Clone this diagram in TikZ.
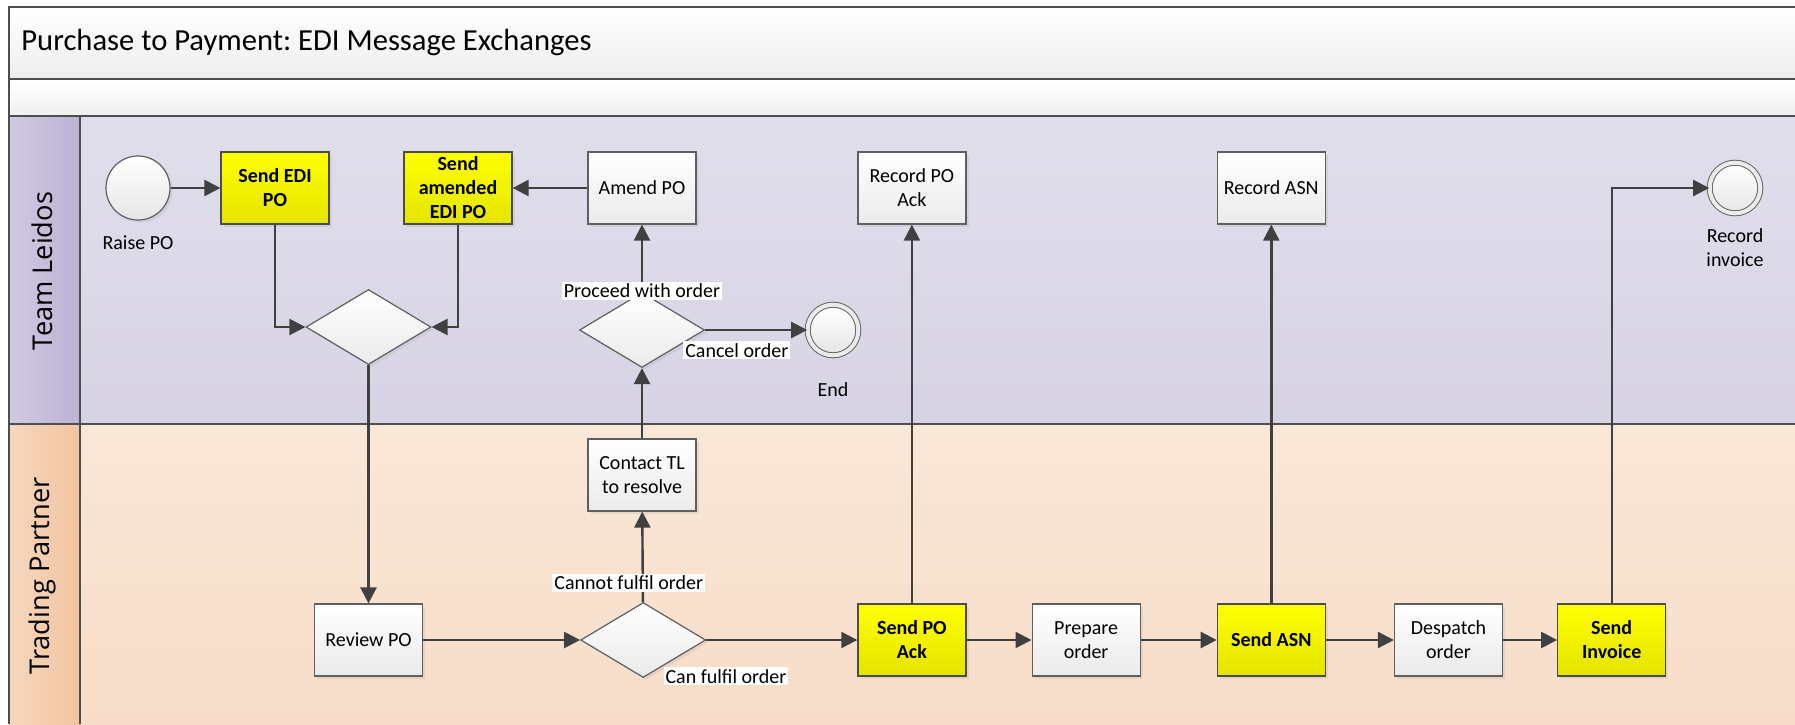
\documentclass[tikz,border=0pt]{standalone}
\usepackage{fontspec}
\setmainfont{Carlito}
\newfontfamily\lanefont{Open Sans}
\frenchspacing
\usetikzlibrary{positioning,shapes.geometric,arrows.meta,shadows}
\definecolor{flowgray}{RGB}{64,64,64}
\definecolor{framegray}{RGB}{78,78,78}
\definecolor{boxgray}{RGB}{95,95,95}
\definecolor{ediyellow}{RGB}{255,255,0}
\definecolor{ediyellowdk}{RGB}{228,228,0}
\definecolor{tltop}{RGB}{225,222,236}
\definecolor{tlbot}{RGB}{215,211,228}
\definecolor{tlhdl}{RGB}{209,201,226}
\definecolor{tlhdr}{RGB}{188,178,211}
\definecolor{tptop}{RGB}{249,231,215}
\definecolor{tpbot}{RGB}{247,221,201}
\definecolor{tphdl}{RGB}{246,215,190}
\definecolor{tphdr}{RGB}{242,196,160}

\tikzset{
  every node/.style={font=\fontsize{10}{12}\selectfont},
  softshadow/.style={drop shadow={opacity=0.13, shadow xshift=1.3pt, shadow yshift=-1.3pt}},
  task/.style={rectangle, draw=boxgray, line width=0.6pt, top color=white, bottom color=white!92!black,
    minimum width=54pt, minimum height=36pt, inner sep=1pt, align=center, softshadow},
  edi/.style={task, draw=black!70, top color=ediyellow, bottom color=ediyellowdk,
    font=\fontsize{10}{12}\selectfont\bfseries},
  gate/.style={diamond, draw=boxgray, line width=0.6pt, top color=white, bottom color=white!92!black,
    minimum width=62.5pt, minimum height=37.5pt, inner sep=0pt, softshadow},
  startev/.style={circle, draw=boxgray, line width=0.6pt, top color=white, bottom color=white!90!black,
    minimum size=32pt, inner sep=0pt, softshadow},
  endev/.style={circle, draw=black!60, line width=0.5pt, double=white!92!black, double distance=2pt,
    top color=white, bottom color=white!90!black, minimum size=25.3pt, inner sep=0pt},
  flow/.style={draw=flowgray, line width=1.2pt, -{Triangle[length=8pt, width=8pt]}},
  lbl/.style={fill=white, inner sep=1pt},
  frame/.style={draw=framegray, line width=1.1pt},
  lanelbl/.style={font=\lanefont\fontsize{13.6}{16}\selectfont, rotate=90}
}

\begin{document}
\begin{tikzpicture}[x=0.5pt, y=0.5pt]
  \useasboundingbox (0,0) rectangle (1795,-724);
  \shade[top color=white, bottom color=white!93!black] (9,-7) rectangle (1795,-79);
  \shade[top color=white, bottom color=white!94!black] (9,-79) rectangle (1795,-116);
  \shade[top color=tltop, bottom color=tlbot] (80,-116) rectangle (1795,-424);
  \shade[left color=tlhdl, right color=tlhdr] (9,-116) rectangle (80,-424);
  \shade[top color=tptop, bottom color=tpbot] (80,-424) rectangle (1795,-724);
  \shade[left color=tphdl, right color=tphdr] (9,-424) rectangle (80,-724);
  \draw[frame] (1795,-7) -- (9,-7) -- (9,-724);
  \draw[frame] (9,-79) -- (1795,-79);
  \draw[frame] (9,-116) -- (1795,-116);
  \draw[frame] (9,-424) -- (1795,-424);
  \draw[frame] (80,-116) -- (80,-724);

  \node (ttl) [anchor=west, inner sep=0pt, font=\fontsize{15.3}{18}\selectfont] at (21,-43)
    {Purchase to Payment: EDI Message Exchanges};
  \node (tl) [lanelbl] at (42,-271) {Team Leidos};
  \node (tp) [lanelbl] at (42,-576) {Trading Partner};

  \node (st) [startev, label={[label distance=4pt]below:Raise PO}] at (138,-188) {};
  \node (sedi) [edi] at (275,-188) {Send EDI\\PO};
  \node (samd) [edi] at (458,-188) {Send\\amended\\EDI PO};
  \node (am) [task] at (642,-188) {Amend PO};
  \node (d1) [gate] at (368.5,-327) {};
  \node (d2) [gate] at (642,-330) {};
  \node (end) [endev, label={[label distance=10pt]below:End}] at (833,-330) {};
  \node (ctl) [task] at (642,-475) {Contact TL\\to resolve};

  \node (rev) [task] at (368.5,-640) {Review PO};
  \node (d3) [gate, right=78.5pt of rev] {};
  \node (spa) [edi, right=75.5pt of d3] {Send PO\\Ack};
  \node (prep) [task, right=32.5pt of spa] {Prepare\\order};
  \node (sasn) [edi, right=38pt of prep] {Send ASN};
  \node (desp) [task, right=34pt of sasn] {Despatch\\order};
  \node (sinv) [edi, right=27pt of desp] {Send\\Invoice};

  \node (rpa) [task] at (spa |- am) {Record PO\\Ack};
  \node (rasn) [task] at (sasn |- am) {Record ASN};
  \node (rinv) [endev, label={[label distance=4pt, align=center]below:Record\\invoice}] at (1735,-188) {};

  \draw[flow] (st) -- (sedi);
  \draw[flow] (sedi) |- (d1.west);
  \draw[flow] (samd) |- (d1.east);
  \draw[flow] (am) -- (samd);
  \draw[flow] (d1) -- (rev);
  \draw[flow] (ctl) -- (d2);
  \draw[flow] (d2) -- node[lbl, pos=0.02] {Proceed with order} (am);
  \draw[flow] (d2) -- node[lbl, below=5pt, pos=0.31] {Cancel order} (end);
  \draw[flow] (rev) -- (d3);
  \draw[flow] (d3) -- node[lbl, pos=0.21, xshift=-7pt] {Cannot fulfil order} (ctl);
  \draw[flow] (d3) -- node[lbl, below=13pt, pos=0.13] {Can fulfil order} (spa);
  \draw[flow] (spa) -- (prep);
  \draw[flow] (prep) -- (sasn);
  \draw[flow] (sasn) -- (desp);
  \draw[flow] (desp) -- (sinv);
  \draw[flow] (spa) -- (rpa);
  \draw[flow] (sasn) -- (rasn);
  \draw[flow] (sinv) |- (rinv);
\end{tikzpicture}
\end{document}
